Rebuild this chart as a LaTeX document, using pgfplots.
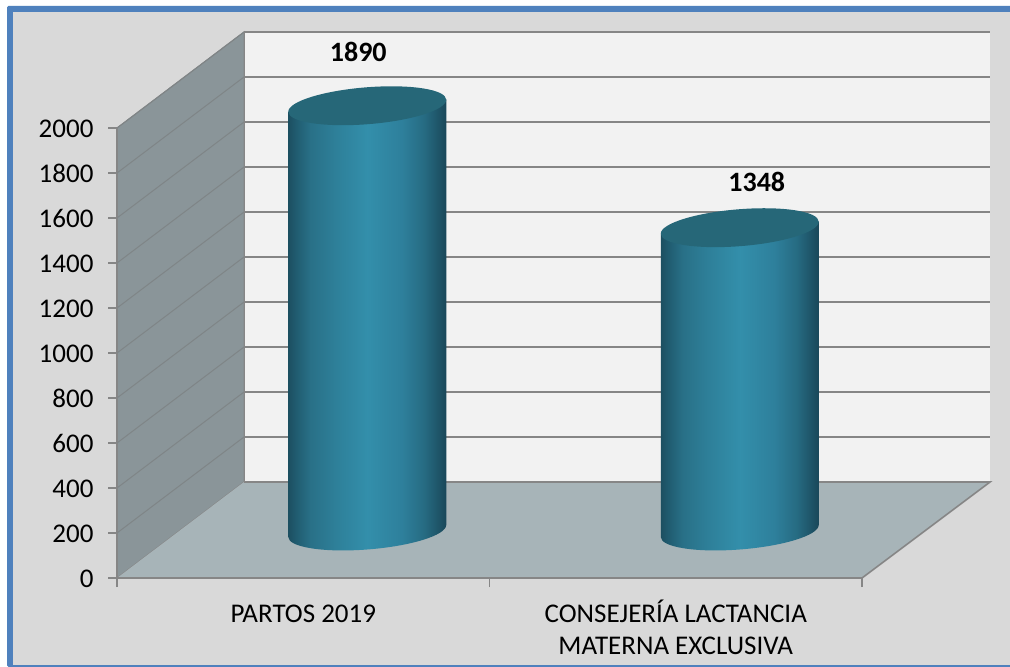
\documentclass[border=0pt]{standalone}
\usepackage{pgfplots}
\pgfplotsset{compat=1.18}
\usepackage{fontspec}
\setmainfont{Carlito}
\definecolor{frameblue}{HTML}{4F81BD}
\definecolor{bggray}{HTML}{D9D9D9}
\definecolor{backw}{HTML}{F2F2F2}
\definecolor{sidew}{HTML}{8A9599}
\definecolor{floorc}{HTML}{A7B4B8}
\definecolor{gline}{HTML}{868686}
\definecolor{dline}{HTML}{7F8587}
\definecolor{cyltop}{HTML}{266778}
% the path's extent maps onto 25bp..75bp of a shading
\pgfdeclarehorizontalshading{cyl}{100bp}{
  rgb(0bp)=(0.11,0.31,0.38);
  rgb(25bp)=(0.11,0.31,0.38);
  rgb(28bp)=(0.13,0.37,0.45);
  rgb(32bp)=(0.16,0.44,0.53);
  rgb(40bp)=(0.18,0.50,0.60);
  rgb(50bp)=(0.20,0.56,0.67);
  rgb(61bp)=(0.18,0.50,0.61);
  rgb(68bp)=(0.15,0.42,0.51);
  rgb(75bp)=(0.10,0.28,0.35);
  rgb(100bp)=(0.10,0.28,0.35)}
\pgfdeclareplotmark{cylinder}{%
  % body: lower ellipse, then slanted polygon up to the top ellipse chord
  \pgfpathellipse{\pgfpoint{0pt}{-\cylh pt}}{\pgfpoint{79pt}{6pt}}{\pgfpoint{0pt}{18.5pt}}%
  \pgfpathmoveto{\pgfpoint{-79pt}{-\cylh pt-6pt}}%
  \pgfpathlineto{\pgfpoint{79pt}{-\cylh pt+6pt}}%
  \pgfpathlineto{\pgfpoint{79pt}{6pt}}%
  \pgfpathlineto{\pgfpoint{-79pt}{-6pt}}%
  \pgfpathclose
  \pgfshadepath{cyl}{0}%
  \pgfusepath{discard}%
  \pgfsetfillcolor{cyltop}%
  \pgfpathellipse{\pgfpointorigin}{\pgfpoint{79pt}{6pt}}{\pgfpoint{0pt}{18.5pt}}%
  \pgfusepathqfill
}
\pgfplotsset{
  cyl/.style={
    scatter, only marks, mark=cylinder, forget plot,
    point meta=y,
    scatter/@pre marker code/.code={\pgfmathsetmacro\cylh{\pgfplotspointmetatransformed*0.45}\scope},
    scatter/@post marker code/.code={\endscope},
  },
  cyllabel/.style={
    only marks, mark=none, forget plot, point meta=y,
    nodes near coords={\pgfmathprintnumber[fixed,precision=0,1000 sep={}]{\pgfplotspointmeta}},
  }
}
\pgfplotstableread{
x y
0.5 1890
1.5 1348
}\cyldata
\begin{document}
\begin{tikzpicture}[x=1pt,y=1pt]
\path[use as bounding box] (0,0) rectangle (1010,667);
\fill[white] (0,0) rectangle (1010,667);
\fill[frameblue,rounded corners=1.5pt] (7,0) rectangle (1014,661);
\fill[bggray] (13,2) rectangle (1010,655);
% walls and floor
\fill[backw] (244,185) rectangle (990,635);
\draw[gline,line width=1pt] (244,185) -- (244,635);
\begin{axis}[at={(244pt,185pt)},anchor=south west,width=746pt,height=450pt,scale only axis,
  xmin=0,xmax=2,ymin=0,ymax=2000,xtick=\empty,ytick={0,200,...,2000},yticklabels={},
  axis line style={draw=none},major tick length=0pt,ymajorgrids,
  grid style={gline,line width=1.8pt}]
\end{axis}
\fill[sidew,draw=gline,line width=1pt] (117,89) -- (117,539) -- (244,635) -- (244,185) -- cycle;
\fill[floorc] (117,89) -- (862,89) -- (990,185) -- (244,185) -- cycle;
\draw[gline,line width=1.6pt] (244,185) -- (990,185) -- (862,89);
\begin{axis}[at={(117pt,89pt)},anchor=south west,width=745pt,height=450pt,scale only axis,
  clip=false,xmin=0,xmax=2,ymin=0,ymax=2000,
  axis x line=bottom,axis y line=left,
  axis line style={gline,line width=1.4pt,-},
  tick align=outside,major tick length=9pt,minor tick length=9pt,
  xtick={0.5,1.5},minor xtick={0,1,2},
  ytick={0,200,...,2000},
  major x tick style={draw=none},
  minor x tick style={gline,line width=1.2pt},
  y tick style={gline,line width=1.2pt},
  xticklabels={PARTOS 2019\vphantom{Í},{CONSEJERÍA LACTANCIA\\MATERNA EXCLUSIVA}},
  tick label style={font=\fontsize{27}{32}\selectfont,
    /pgf/number format/assume math mode=true,/pgf/number format/1000 sep={}},
  xticklabel style={align=center,yshift=-9pt},
  yticklabel style={xshift=-11pt,yshift=-0.5pt},
  ]
\foreach \v in {200,400,...,2000}{
  \edef\temp{\noexpand\draw[dline,line width=1pt] (axis cs:0,\v) -- ([shift={(127pt,96pt)}]axis cs:0,\v);}
  \temp
}
\end{axis}
\begin{axis}[at={(181pt,136pt)},anchor=south west,width=745pt,height=450pt,scale only axis,
  clip=false,hide axis,xmin=0,xmax=2,ymin=0,ymax=2000,
  point meta min=0,point meta max=2000]
\addplot[cyl] table[x=x,y=y] {\cyldata};
\addplot[cyllabel,every node near coord/.append style={font=\fontsize{28}{32}\selectfont\bfseries,anchor=center,
   xshift=-9pt,yshift=53.5pt,/pgf/number format/assume math mode=true,text=black}]
  coordinates {(0.5,1890)};
\addplot[cyllabel,every node near coord/.append style={font=\fontsize{28}{32}\selectfont\bfseries,anchor=center,
   xshift=17pt,yshift=46pt,/pgf/number format/assume math mode=true,text=black}]
  coordinates {(1.5,1348)};
\end{axis}
\end{tikzpicture}
\end{document}
